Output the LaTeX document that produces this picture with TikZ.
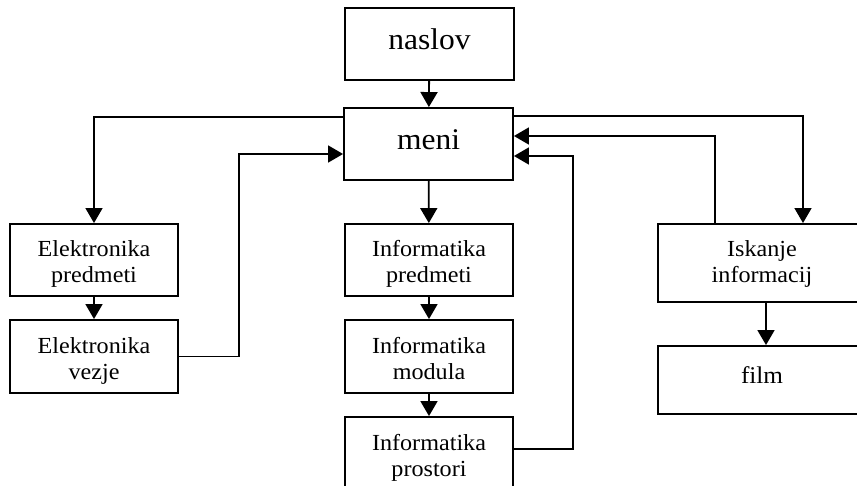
\documentclass[tikz,border=0pt]{standalone}
\usepackage{fontspec}
\setmainfont{Liberation Serif}[FakeStretch=1.05]
\usetikzlibrary{arrows.meta}

\tikzset{
  box/.style={draw, line width=1.9pt, inner sep=0pt, align=center},
  bigbox/.style={box, minimum width=169pt, minimum height=72pt,
    font=\fontsize{30}{34}\selectfont, text height=18pt, text depth=6pt},
  twobox/.style={box, minimum width=168pt, minimum height=72pt,
    font=\fontsize{23}{26}\selectfont, text height=50pt, text depth=4pt},
  arr/.style={line width=1.8pt, -{Triangle[length=15pt,width=17pt]}},
  thinarr/.style={arr, line width=1.4pt}
}

\begin{document}
\begin{tikzpicture}[x=1pt,y=-1pt]
\useasboundingbox (0,0) rectangle (857,486);

% BOXES
% top
\node[bigbox] (naslov) at (429.5,44) {naslov};
\node[bigbox] (meni) at (428.5,144) {meni};
% left column
\node[twobox] (elpred) at (94,260) {Elektronika\\predmeti};
\node[twobox, minimum height=73pt] (elvez) at (94,356.5) {Elektronika\\vezje};
% middle column
\node[twobox] (inpred) at (429,260) {Informatika\\predmeti};
\node[twobox, minimum height=73pt] (inmod) at (429,356.5) {Informatika\\modula};
\node[twobox] (inpros) at (429,453) {Informatika\\prostori};
% right column
\node[twobox, minimum width=208pt, minimum height=78pt, text height=46pt, text depth=6pt] (iskanje) at (762,263) {Iskanje\\informacij};
\node[box, minimum width=208pt, minimum height=68pt,
  font=\fontsize{24}{28}\selectfont, text height=16pt, text depth=10pt] (film) at (762,380) {film};

% ARROWS
% straight down
\draw[arr] (naslov) -- (meni);
\draw[arr] (meni) -- (inpred);
\draw[arr] (elpred) -- (elvez);
\draw[arr] (inpred) -- (inmod);
\draw[arr] (inmod) -- (inpros);
\draw[arr] ([xshift=4pt]iskanje.south) -- ([xshift=4pt]film.north);

% from meni out to the sides
\draw[thinarr] ([yshift=-10pt]meni.north west) -| (elpred.north);
\draw[thinarr] ([yshift=-9pt]meni.north east) -| ([xshift=41pt]iskanje.north);

% back to meni
\draw[arr] (elvez.east) -- ++(60,0) |- ([yshift=-10pt]meni.west);
\draw[arr] ([yshift=4pt]inpros.east) -- ++(59,0) |- ([yshift=-12pt]meni.east);
\draw[arr] ([xshift=-47pt]iskanje.north) |- ([yshift=8pt]meni.east);

\end{tikzpicture}
\end{document}
